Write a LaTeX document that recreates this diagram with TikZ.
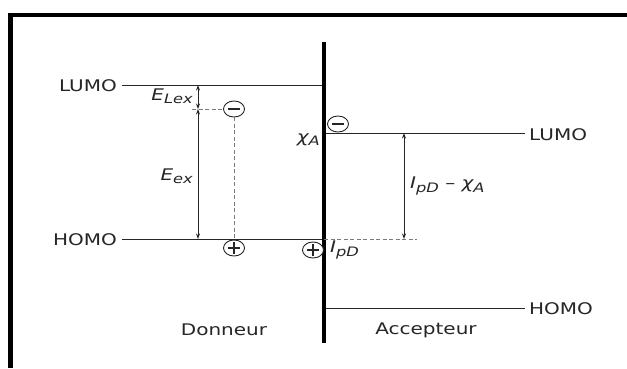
\documentclass[tikz,border=0pt]{standalone}
\usepackage{fontspec}
\setmainfont{DejaVu Sans}
\usetikzlibrary{arrows.meta,shapes.geometric}
\newcommand\hs[1]{\scalebox{1.25}[1]{#1}}
\newcommand\sub[1]{\raisebox{-0.35ex}{\fontsize{13}{14}\selectfont #1}}
\definecolor{ink}{HTML}{262626}
\definecolor{dash}{HTML}{7A7A7A}
\begin{document}
\begin{tikzpicture}[x=1pt,y=-1pt,
  level/.style={draw=ink,line width=1pt},
  lbl/.style={inner sep=1pt,text=ink,font=\fontsize{16}{19}\selectfont},
  mlbl/.style={inner sep=1pt,text=ink,font=\fontsize{16}{19}\selectfont\itshape},
  charge/.style={draw=ink,line width=0.9pt,ellipse,minimum width=21pt,minimum height=16pt,inner sep=0pt,fill=white},
  dimarrow/.style={draw=ink,line width=0.9pt,{Stealth[length=5.5pt,width=4pt]}-{Stealth[length=5.5pt,width=4pt]}},
  dashline/.style={draw=dash,line width=1pt,dash pattern=on 4pt off 2.5pt}]
\useasboundingbox (0,0) rectangle (627,368);
\fill[white] (0,0) rectangle (627,368);
% frame
\draw[line width=4.5pt,black] (627,15) -- (10.5,15) -- (10.5,368);
% interface
\coordinate (itop) at (324,42);
\coordinate (ibot) at (324,343);
% levels
\coordinate (dL1) at (122,85);  \coordinate (dL2) at (324,85);
\coordinate (dH1) at (122,239); \coordinate (dH2) at (324,239);
\coordinate (aL1) at (324,133); \coordinate (aL2) at (525,133);
\coordinate (aH1) at (324,308); \coordinate (aH2) at (525,308);
\draw[level] (dL1) -- (dL2);
\draw[level] (dH1) -- (dH2);
\draw[level] (aL1) -- (aL2);
\draw[level] (aH1) -- (aH2);
\draw[line width=4pt,black] (itop) -- (ibot);
% level labels
\node[lbl,anchor=east] (tdL) at (118,86) {\hs{LUMO}};
\node[lbl,anchor=east] (tdH) at (118,240) {\hs{HOMO}};
\node[lbl,anchor=west] (taL) at (528,135) {\hs{LUMO}};
\node[lbl,anchor=west] (taH) at (528,309) {\hs{HOMO}};
\node[lbl] (don) at (224,330) {\hs{Donneur}};
\node[lbl] (acc) at (426,330) {\hs{Accepteur}};
% charges
\node[charge] (mD) at (234,109) {};
\node[charge] (pD) at (234,248) {};
\node[charge] (mA) at (338,124) {};
\node[charge] (pA) at (313,250) {};
\foreach \c in {mD,pD,mA,pA}{
  \draw[ink,line width=1.6pt] ([xshift=-6pt]\c.center) -- ([xshift=6pt]\c.center);}
\foreach \c in {pD,pA}{
  \draw[ink,line width=1.4pt] ([yshift=-6pt]\c.center) -- ([yshift=6pt]\c.center);}
% dashed
\coordinate (dx) at (192,109);
\draw[dashline] (dx) -- (mD.west);
\draw[dashline] (mD.south) -- (pD.north);
\coordinate (ipd) at (417,239);
\draw[dashline] (dH2) -- (ipd);
% arrows
\coordinate (a1t) at (198,85);
\coordinate (a1b) at (198,109);
\coordinate (a2b) at (198,239);
\draw[dimarrow] (a1t) -- (a1b);
\draw[dimarrow] (a1b) -- (a2b);
\coordinate (a3t) at (404,133);
\coordinate (a3b) at (404,239);
\draw[dimarrow] (a3t) -- (a3b);
% math labels
\node[mlbl,anchor=east] (elex) at (194,96) {\hs{E\sub{Lex}}};
\node[mlbl,anchor=east] (eex) at (194,176) {\hs{E\sub{ex}}};
\node[mlbl,anchor=east] (chi) at (321,140) {\hs{χ\sub{A}}};
\node[mlbl,anchor=west] (ipdl) at (329,250) {\hs{I\sub{pD}}};
\node[mlbl,anchor=west] (diff) at (409,186) {\hs{I\sub{pD}\upshape\ –\ \itshape χ\sub{A}}};
\end{tikzpicture}
\end{document}
